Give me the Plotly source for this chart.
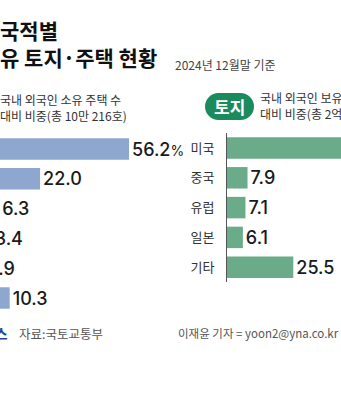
import plotly.graph_objects as go

W, H = 341, 400

# Housing owned by foreigners, share by nationality (%)
house_countries = ["중국", "미국", "캐나다", "대만", "호주", "기타"]
house_share = [56.2, 22.0, 6.3, 3.4, 1.9, 10.3]

# Land owned by foreigners, share by nationality (%)
land_countries = ["미국", "중국", "유럽", "일본", "기타"]
land_share = [53.4, 7.9, 7.1, 6.1, 25.5]

BLUE = "#8da7cf"
GREEN = "#6aab89"
DARK_GREEN = "#1b8a5c"
KR = "Noto Sans CJK KR"
NUM = "Inter, Noto Sans CJK KR"


def fx(p):
    return p / W


def fy(p):
    return 1 - p / H


def value_labels(vals):
    out = [f"{v:.1f}" for v in vals]
    out[0] += "<span style='font-size:14px;font-weight:400'>%</span>"
    return out


PX_PER_UNIT = 2.6
house_zero_px = -17.1
land_zero_px = 227
left_end_px = 186

fig = go.Figure()

fig.add_trace(go.Bar(
    y=house_countries, x=house_share, orientation="h",
    marker=dict(color=BLUE, line=dict(width=0)),
    text=value_labels(house_share), textposition="outside",
    textfont=dict(family=NUM, size=18, color="#1a1a1a", weight=500),
    constraintext="none", cliponaxis=True,
    xaxis="x", yaxis="y", hoverinfo="skip",
))

fig.add_trace(go.Bar(
    y=land_countries, x=land_share, orientation="h",
    marker=dict(color=GREEN, line=dict(width=0)),
    text=value_labels(land_share), textposition="outside",
    textfont=dict(family=NUM, size=18, color="#1a1a1a", weight=500),
    constraintext="none", cliponaxis=True,
    xaxis="x2", yaxis="y2", hoverinfo="skip",
))

n_h = len(house_countries)
n_l = len(land_countries)

annotations = []


def note(text, x, y, size, color="#333", weight=400, xanchor="left", family=KR):
    annotations.append(dict(
        text=text, x=fx(x), y=fy(y), xref="paper", yref="paper",
        xanchor=xanchor, yanchor="middle", align="left", showarrow=False,
        borderpad=0,
        font=dict(family=family, size=size, color=color, weight=weight),
    ))


# Title block
note("국적별<br>유 토지·주택 현황", -1, 43.5, 21, "#111", 700)
note("2024년 12월말 기준", 174, 65, 12, "#444")

# Panel captions
note("국내 외국인 소유 주택 수<br>대비 비중(총 10만 216호)", -1, 107, 12, "#333")
note("국내 외국인 보유<br>대비 비중(총 2억", 259, 105.5, 12, "#333")
note("토지", 229.5, 106.5, 17, "#ffffff", 700, xanchor="center")

# Footer
note("연합뉴스", 9, 333, 14, "#24468a", 700, xanchor="right")
note("자료:국토교통부", 18, 333, 12.5, "#555")
note("이재윤 기자 = yoon2@yna.co.kr", 177, 333, 11.5, "#555")

# Pill badge behind "토지"
pill_top, pill_bot, pill_l, pill_r = 93, 120, 205, 254
r = (pill_bot - pill_top) / 2
shapes = [
    dict(type="rect", xref="paper", yref="paper",
         x0=fx(pill_l + r), x1=fx(pill_r - r), y0=fy(pill_bot), y1=fy(pill_top),
         fillcolor=DARK_GREEN, line=dict(width=0), layer="below"),
    dict(type="circle", xref="paper", yref="paper",
         x0=fx(pill_l), x1=fx(pill_l + 2 * r), y0=fy(pill_bot), y1=fy(pill_top),
         fillcolor=DARK_GREEN, line=dict(width=0), layer="below"),
    dict(type="circle", xref="paper", yref="paper",
         x0=fx(pill_r - 2 * r), x1=fx(pill_r), y0=fy(pill_bot), y1=fy(pill_top),
         fillcolor=DARK_GREEN, line=dict(width=0), layer="below"),
]

pitch = 29.8
h_top = 134.1
l_top = 133.1

fig.update_layout(
    width=W, height=H,
    margin=dict(l=0, r=0, t=0, b=0),
    paper_bgcolor="white", plot_bgcolor="white",
    showlegend=False, bargap=0.28,
    font=dict(family=KR),
    xaxis=dict(
        domain=[0, fx(left_end_px)],
        range=[-house_zero_px / PX_PER_UNIT, (left_end_px - house_zero_px) / PX_PER_UNIT],
        visible=False, anchor="y",
    ),
    yaxis=dict(
        domain=[fy(h_top + n_h * pitch), fy(h_top)],
        range=[n_h - 0.5, -0.5], showticklabels=False,
        showgrid=False, zeroline=False, anchor="x",
    ),
    xaxis2=dict(
        domain=[fx(land_zero_px), 1],
        range=[0, (W - land_zero_px) / PX_PER_UNIT],
        visible=False, anchor="y2",
    ),
    yaxis2=dict(
        domain=[fy(l_top + n_l * pitch), fy(l_top)],
        range=[n_l - 0.5, -0.5], anchor="x2",
        showgrid=False, zeroline=False,
        showline=True, linecolor="#555", linewidth=1,
        ticks="", ticklabelstandoff=9,
        tickfont=dict(family=KR, size=13, color="#333"),
    ),
    annotations=annotations,
    shapes=shapes,
)

fig.write_html("out.html")
